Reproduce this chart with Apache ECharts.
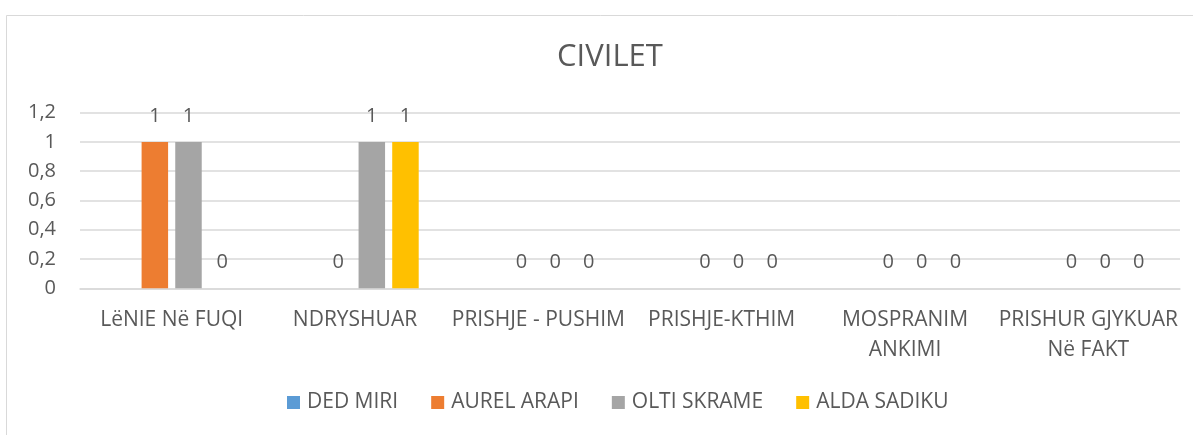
<!DOCTYPE html>
<html>
<head>
<meta charset="utf-8">
<script src="https://cdn.jsdelivr.net/npm/echarts@6/dist/echarts.min.js"></script>
<style>
html,body{margin:0;padding:0;background:#fff;}
#c{width:1193px;height:435px;}
</style>
</head>
<body>
<div id="c"></div>
<script>
const titleText = 'CIVILET';
const categories = ['LëNIE Në FUQI', 'NDRYSHUAR', 'PRISHJE - PUSHIM', 'PRISHJE-KTHIM', 'MOSPRANIM\nANKIMI', 'PRISHUR GJYKUAR\nNë FAKT'];
const seriesNames = ['DED MIRI', 'AUREL ARAPI', 'OLTI SKRAME', 'ALDA SADIKU'];
const dedMiri = [null, null, null, null, null, null];
const aurelArapi = [1, 0, 0, 0, 0, 0];
const oltiSkrame = [1, 1, 0, 0, 0, 0];
const aldaSadiku = [0, 1, 0, 0, 0, 0];
const yTicks = [0, 0.2, 0.4, 0.6, 0.8, 1, 1.2];
const colors = ['#5B9BD5', '#ED7D31', '#A5A5A5', '#FFC000'];

const FONT = '"Open Sans", "Noto Sans", sans-serif';
const TXT = '#595959';
const seriesData = [dedMiri, aurelArapi, oltiSkrame, aldaSadiku];

const chart = echarts.init(document.getElementById('c'), null, {renderer: 'canvas'});
chart.setOption({
  animation: false,
  backgroundColor: '#fff',
  color: colors,
  textStyle: {fontFamily: FONT},
  graphic: [{
    type: 'rect', left: 4, top: 13, silent: true, z: -10,
    shape: {width: 1240, height: 480},
    style: {fill: 'none', stroke: '#d9d9d9', lineWidth: 1}
  }],
  title: {
    text: titleText, left: 610, top: 42, textAlign: 'center', padding: 0,
    textStyle: {fontFamily: FONT, fontSize: 31, fontWeight: 'normal', color: TXT}
  },
  legend: {
    data: seriesNames, left: 287, top: 392, padding: 0,
    itemWidth: 13, itemHeight: 13, itemGap: 33, icon: 'rect',
    textStyle: {fontFamily: FONT, fontSize: 21, color: TXT, padding: [0, 0, 0, 2]}
  },
  grid: {left: 80, right: 13, top: 112.7, bottom: 146.7, containLabel: false},
  xAxis: {
    type: 'category', data: categories,
    axisLine: {show: true, lineStyle: {color: '#d9d9d9', width: 1.5}},
    axisTick: {show: false},
    axisLabel: {interval: 0, fontFamily: FONT, fontSize: 21, color: TXT, margin: 17, lineHeight: 30, align: 'center'}
  },
  yAxis: {
    type: 'value', min: yTicks[0], max: yTicks[yTicks.length - 1], interval: 0.2,
    axisLine: {show: false}, axisTick: {show: false},
    splitLine: {lineStyle: {color: '#d9d9d9', width: 1.5}},
    axisLabel: {
      fontFamily: FONT, fontSize: 20, color: TXT, margin: 24,
      formatter: v => (Math.round(v * 10) / 10).toString().replace('.', ',')
    }
  },
  series: seriesNames.map((n, i) => ({
    name: n, type: 'bar', data: seriesData[i],
    barGap: '27%', barCategoryGap: '30.5%',
    itemStyle: {color: colors[i]},
    label: {
      show: true, position: 'top', distance: 16,
      fontFamily: FONT, fontSize: 20, color: TXT,
      formatter: p => (p.value === null || p.value === undefined) ? '' : String(p.value)
    }
  }))
});
</script>
</body>
</html>
